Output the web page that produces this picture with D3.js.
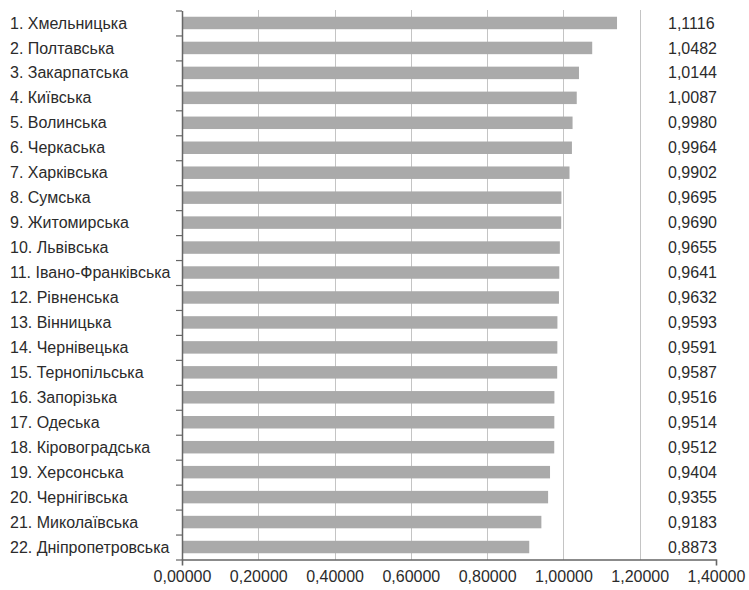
<!DOCTYPE html>
<html>
<head>
<meta charset="utf-8">
<script src="https://cdn.jsdelivr.net/npm/d3@7"></script>
<style>
  body { margin: 0; background: #fff; }
  svg text { font-family: "Liberation Sans", Arial, sans-serif; fill: #2b2b2b; }
</style>
</head>
<body>
<svg class="board" width="749" height="590"></svg>
<script>
// regions in rank order
var regions = [
  "Хмельницька", "Полтавська", "Закарпатська", "Київська", "Волинська",
  "Черкаська", "Харківська", "Сумська", "Житомирська", "Львівська",
  "Івано-Франківська", "Рівненська", "Вінницька", "Чернівецька", "Тернопільська",
  "Запорізька", "Одеська", "Кіровоградська", "Херсонська", "Чернігівська",
  "Миколаївська", "Дніпропетровська"
];

// index value per region
var values = [
  1.1116, 1.0482, 1.0144, 1.0087, 0.9980,
  0.9964, 0.9902, 0.9695, 0.9690, 0.9655,
  0.9641, 0.9632, 0.9593, 0.9591, 0.9587,
  0.9516, 0.9514, 0.9512, 0.9404, 0.9355,
  0.9183, 0.8873
];

var xTicks = [0, 0.2, 0.4, 0.6, 0.8, 1.0, 1.2, 1.4];

var svg = d3.select(".board");

// plot area edges (note: "top" is taken by window.top)
var pLeft = 182, pRight = 716, pTop = 10.5, pBottom = 559.5;

var x = d3.scaleLinear().domain([0, 1.4]).range([pLeft, pRight]);
// in the source chart the bars run about 2.5% longer than the axis says
var xBar = x.copy().range([pLeft, pLeft + (pRight - pLeft) * 1.026]);
var y = d3.scaleBand().domain(d3.range(regions.length)).range([pTop, pBottom]).paddingInner(0.5).paddingOuter(0.25);
// boundary positions for the category ticks
var yb = d3.scaleLinear().domain([0, regions.length]).range([pTop, pBottom]);

var comma = function(v, n) { return v.toFixed(n).replace(".", ","); };

// dotted grid lines
svg.append("g")
  .selectAll("line")
  .data(xTicks.slice(1, -1))
  .enter().append("line")
    .attr("x1", function(d) { return Math.round(x(d)) + 0.5; })
    .attr("x2", function(d) { return Math.round(x(d)) + 0.5; })
    .attr("y1", pTop)
    .attr("y2", pBottom)
    .attr("stroke", "#888")
    .attr("stroke-width", 1)
    .attr("stroke-dasharray", "1,1");

// bars
svg.append("g")
  .selectAll("rect")
  .data(values)
  .enter().append("rect")
    .attr("x", xBar(0))
    .attr("y", function(d, i) { return y(i); })
    .attr("width", function(d) { return xBar(d) - xBar(0); })
    .attr("height", y.bandwidth())
    .attr("fill", "#aaaaaa");

// x axis
var xAxis = svg.append("g")
  .attr("transform", "translate(0," + pBottom + ")")
  .call(d3.axisBottom(x).tickValues(xTicks).tickSizeInner(0).tickSizeOuter(6).tickPadding(11)
    .tickFormat(function(d) { return comma(d, 5); }));
xAxis.select(".domain").attr("stroke", "#666").attr("stroke-width", 1.6);
xAxis.selectAll("text").attr("font-size", 16).attr("fill", "#2b2b2b")
  .style("font-family", "'Liberation Sans', Arial, sans-serif");

// y axis with ticks between categories
var yAxis = svg.append("g")
  .attr("transform", "translate(" + pLeft + ",0)")
  .call(d3.axisLeft(yb).tickValues(d3.range(regions.length + 1)).tickSize(6).tickSizeOuter(0).tickFormat(""));
yAxis.select(".domain").attr("stroke", "#666").attr("stroke-width", 1.5);
yAxis.selectAll(".tick line").attr("stroke", "#666").attr("stroke-width", 1.2);

// region labels
svg.append("g")
  .selectAll("text")
  .data(regions)
  .enter().append("text")
    .attr("x", 10)
    .attr("y", function(d, i) { return y(i) + y.bandwidth() / 2; })
    .attr("dy", "0.35em")
    .attr("font-size", 16)
    .text(function(d, i) { return (i + 1) + ". " + d; });

// value labels
svg.append("g")
  .selectAll("text")
  .data(values)
  .enter().append("text")
    .attr("x", 668)
    .attr("y", function(d, i) { return y(i) + y.bandwidth() / 2; })
    .attr("dy", "0.35em")
    .attr("font-size", 16)
    .text(function(d) { return comma(d, 4); });
</script>
</body>
</html>
